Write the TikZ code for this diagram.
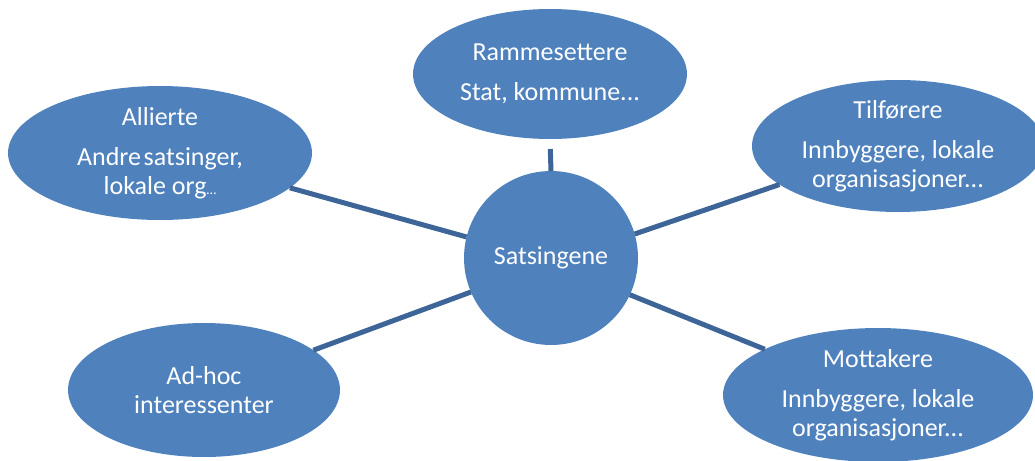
\documentclass[tikz,border=0pt]{standalone}
\usepackage{fontspec}
\setmainfont{Carlito}
\usetikzlibrary{shapes.geometric}

\definecolor{bubble}{HTML}{4F81BD}
\definecolor{spoke}{HTML}{3D6598}

\tikzset{
  actor/.style={ellipse, fill=bubble, text=white, inner sep=0pt, outer sep=0pt, align=center,
                font=\fontsize{14.8}{16.5}\selectfont},
  hub/.style={circle, fill=bubble, text=white, inner sep=0pt, outer sep=0pt, minimum size=3.48cm,
              font=\fontsize{14.8}{16.5}\selectfont},
  spokeline/.style={draw=spoke, line width=2.85pt}
}

\begin{document}
\begin{tikzpicture}[x=0.02cm, y=-0.02cm]

 \useasboundingbox (0,0) rectangle (1035,460);
 \clip (0,0) rectangle (1035,460);

 %%%%%%%%%% Satsingene i midten %%%%%%%%%%
 \node [hub] (sats) at (551,258) {Satsingene};

 %%%%%%%%%% Aktorer rundt %%%%%%%%%%
 \node [actor, minimum width=6.08cm, minimum height=2.68cm] (allierte) at (160,153)
   {Allierte\\[6pt] Andre\hspace{0.1em}satsinger,\\ lokale org{\footnotesize\ldots}};
 \node [actor, minimum width=5.48cm, minimum height=2.6cm] (ramme) at (550,74)
   {Rammesettere\\[6pt] Stat, kommune...};
 \node [actor, minimum width=5.84cm, minimum height=2.64cm] (tilf) at (898,146)
   {Tilførere\\[6pt] Innbyggere, lokale\\ organisasjoner...};
 \node [actor, minimum width=5.44cm, minimum height=2.68cm] (adhoc) at (204,390)
   {Ad-hoc\\ interessenter};
 \node [actor, minimum width=6.2cm, minimum height=2.68cm] (mott) at (878,395)
   {Mottakere\\[6pt] Innbyggere, lokale\\ organisasjoner...};

 %%%%%%%%%% Linjer %%%%%%%%%%
 \draw [spokeline, shorten >=0.2cm] (sats.north) -- (ramme.south);
 \draw [spokeline] (sats.166) -- (allierte.-15);
 \draw [spokeline] (sats.16) -- (tilf.198);
 \draw [spokeline] (sats.203) -- (adhoc.20);
 \draw [spokeline] (sats.-25) -- (mott.158);

\end{tikzpicture}
\end{document}
